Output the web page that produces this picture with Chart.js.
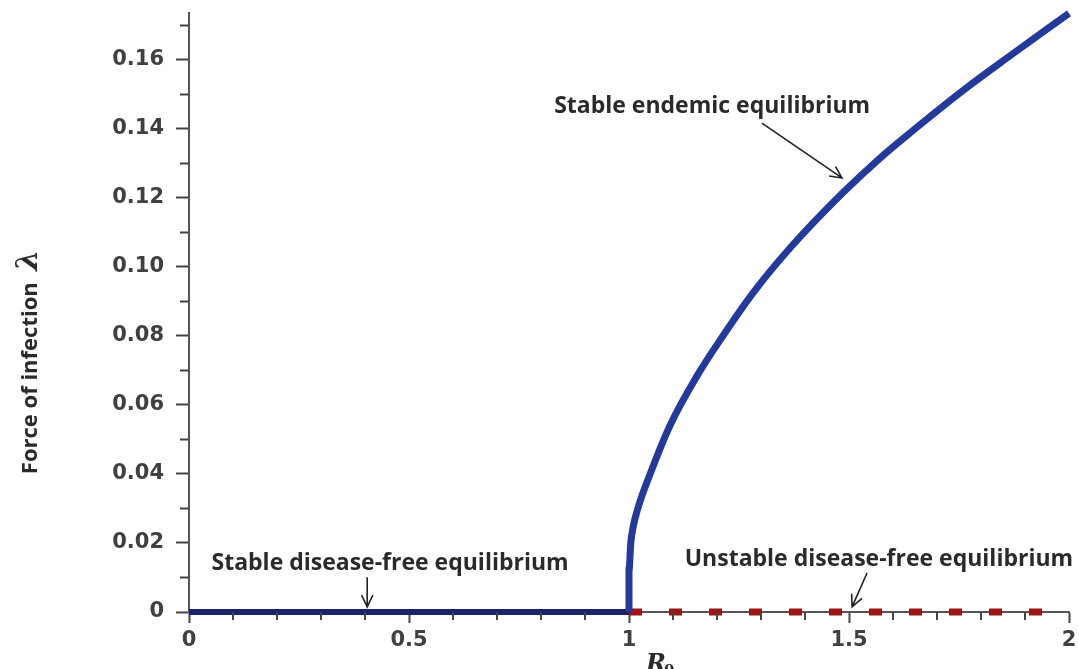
<!DOCTYPE html>
<html>
<head>
	<title>Force of infection vs R0</title>
	<script src="https://cdn.jsdelivr.net/npm/chart.js"></script>
	<style>
		html, body { margin: 0; padding: 0; background: #fff; }
		canvas { display: block; }
	</style>
</head>
<body>
	<canvas id="chart1" width="1079" height="669"></canvas>
	<script>
		// tick labels
		var xTicks = [0, 0.5, 1, 1.5, 2];
		var yTicks = [0, 0.02, 0.04, 0.06, 0.08, 0.10, 0.12, 0.14, 0.16];

		// stable disease-free branch (R0 < 1)
		var stableDfeR = [0, 1];
		var stableDfeL = [0, 0];

		// unstable disease-free branch (R0 > 1)
		var unstableDfeR = [1, 2];
		var unstableDfeL = [0, 0];

		// stable endemic branch
		var endemicR = [1.0, 1.0, 1.004, 1.01, 1.02, 1.048, 1.093, 1.155, 1.207, 1.282, 1.366, 1.486, 1.570, 1.645, 1.768, 1.866, 2.0];
		var endemicL = [0, 0.012, 0.02, 0.025, 0.030, 0.040, 0.054, 0.0685, 0.0788, 0.0925, 0.1055, 0.1215, 0.1315, 0.1395, 0.152, 0.1612, 0.1735];

		// labels with arrows, in data units
		var notes = [
			{ text: 'Stable endemic equilibrium', x: 1.189, y: 0.1464, ax: 1.302, ay: 0.1417, bx: 1.484, by: 0.1258 },
			{ text: 'Stable disease-free equilibrium', x: 0.457, y: 0.0142, ax: 0.405, ay: 0.0101, bx: 0.405, by: 0.0015 },
			{ text: 'Unstable disease-free equilibrium', x: 1.568, y: 0.0151, ax: 1.541, ay: 0.0113, bx: 1.507, by: 0.0015 }
		];

		function toPoints(xs, ys) {
			var pts = [];
			for (var i = 0; i < xs.length; i++) {
				pts.push({ x: xs[i], y: ys[i] });
			}
			return pts;
		}

		var tickFont = { family: 'DejaVu Sans', size: 21, weight: 'bold' };
		var noteFont = 'bold 23px "Open Sans"';

		var extras = {
			id: 'extras',
			afterDraw: function(chart) {
				var ctx = chart.ctx;
				var xs = chart.scales.x;
				var ys = chart.scales.y;
				var bottom = ys.getPixelForValue(0);
				var left = xs.getPixelForValue(0);
				ctx.save();

				// minor ticks
				ctx.strokeStyle = '#444';
				ctx.lineWidth = 2;
				ctx.beginPath();
				for (var i = 1; i < 20; i++) {
					if (i % 5 === 0) continue;
					var px = xs.getPixelForValue(i / 10);
					ctx.moveTo(px, bottom);
					ctx.lineTo(px, bottom + 8);
				}
				for (var j = 1; j < 18; j++) {
					if (j % 2 === 0) continue;
					var py = ys.getPixelForValue(j / 100);
					ctx.moveTo(left - 9, py);
					ctx.lineTo(left, py);
				}
				ctx.stroke();

				// annotations
				ctx.fillStyle = '#2a2a2a';
				ctx.strokeStyle = '#222';
				ctx.lineWidth = 1.6;
				ctx.font = noteFont;
				ctx.textAlign = 'center';
				ctx.textBaseline = 'middle';
				notes.forEach(function(n) {
					ctx.fillText(n.text, xs.getPixelForValue(n.x), ys.getPixelForValue(n.y));
					var x1 = xs.getPixelForValue(n.ax), y1 = ys.getPixelForValue(n.ay);
					var x2 = xs.getPixelForValue(n.bx), y2 = ys.getPixelForValue(n.by);
					var ang = Math.atan2(y2 - y1, x2 - x1);
					ctx.beginPath();
					ctx.moveTo(x1, y1);
					ctx.lineTo(x2, y2);
					ctx.moveTo(x2 - 13 * Math.cos(ang - 0.45), y2 - 13 * Math.sin(ang - 0.45));
					ctx.lineTo(x2, y2);
					ctx.lineTo(x2 - 13 * Math.cos(ang + 0.45), y2 - 13 * Math.sin(ang + 0.45));
					ctx.stroke();
				});

				// y axis title
				ctx.save();
				ctx.translate(37, 362);
				ctx.rotate(-Math.PI / 2);
				ctx.textAlign = 'left';
				ctx.textBaseline = 'alphabetic';
				var part1 = 'Force of infection  ';
				ctx.font = 'bold 22px "Open Sans"';
				var w1 = ctx.measureText(part1).width;
				ctx.font = 'bold italic 30px "DejaVu Serif"';
				var w2 = ctx.measureText('\u03bb').width;
				var start = -(w1 + w2) / 2;
				ctx.font = 'bold 22px "Open Sans"';
				ctx.fillText(part1, start, 0);
				ctx.font = 'bold italic 30px "DejaVu Serif"';
				ctx.fillText('\u03bb', start + w1, 0);
				ctx.restore();

				// x axis title
				ctx.textAlign = 'left';
				ctx.textBaseline = 'alphabetic';
				ctx.font = 'bold italic 24px "DejaVu Serif"';
				ctx.fillText('R', 646, 671);
				ctx.font = 'bold 15px "DejaVu Serif"';
				ctx.fillText('0', 664, 675);

				ctx.restore();
			}
		};

		var ctx = document.getElementById('chart1').getContext('2d');
		var myChart = new Chart(ctx, {
			type: 'line',
			data: {
				datasets: [
					{
						label: 'Stable endemic equilibrium',
						data: toPoints(endemicR, endemicL),
						borderColor: '#24399c',
						borderWidth: 7,
						pointRadius: 0,
						cubicInterpolationMode: 'monotone',
						clip: false,
						order: 0
					},
					{
						label: 'Stable disease-free equilibrium',
						data: toPoints(stableDfeR, stableDfeL),
						borderColor: '#1b2466',
						borderWidth: 6,
						pointRadius: 0,
						clip: false,
						order: 1
					},
					{
						label: 'Unstable disease-free equilibrium',
						data: toPoints(unstableDfeR, unstableDfeL),
						borderColor: '#9c1616',
						borderWidth: 7,
						borderDash: [13, 27],
						pointRadius: 0,
						clip: false,
						order: 2
					}
				]
			},
			options: {
				responsive: false,
				animation: false,
				layout: { padding: { top: 13, right: 10, left: 0, bottom: 0 } },
				plugins: {
					legend: { display: false },
					tooltip: { enabled: false }
				},
				scales: {
					x: {
						type: 'linear',
						min: 0,
						max: 2,
						afterBuildTicks: function(scale) {
							scale.ticks = xTicks.map(function(v) { return { value: v }; });
						},
						afterFit: function(scale) {
							scale.height = 57;
							scale.paddingLeft = 0;
							scale.paddingRight = 0;
						},
						grid: { drawOnChartArea: false, tickLength: 11, tickColor: '#444', tickWidth: 2 },
						border: { color: '#555', width: 2 },
						ticks: {
							font: tickFont,
							color: '#404040',
							padding: 5,
							maxRotation: 0,
							callback: function(v) { return String(v); }
						}
					},
					y: {
						type: 'linear',
						min: 0,
						max: 0.1736,
						afterBuildTicks: function(scale) {
							scale.ticks = yTicks.map(function(v) { return { value: v }; });
						},
						afterFit: function(scale) {
							scale.width = 189;
							scale.paddingTop = 0;
							scale.paddingBottom = 0;
						},
						grid: { drawOnChartArea: false, tickLength: 13, tickColor: '#444', tickWidth: 2 },
						border: { color: '#555', width: 2 },
						ticks: {
							font: tickFont,
							color: '#404040',
							padding: 12,
							callback: function(v) { return v === 0 ? '0' : v.toFixed(2); }
						}
					}
				}
			},
			plugins: [extras]
		});
	</script>
</body>
</html>
